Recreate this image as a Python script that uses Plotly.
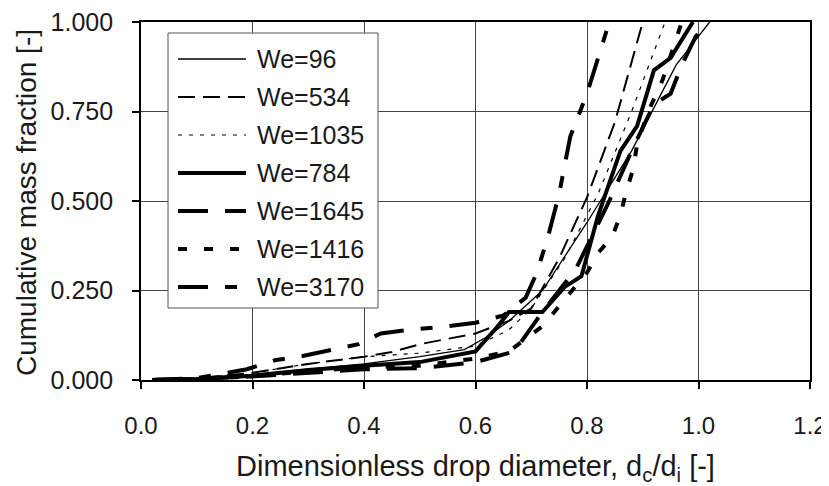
import plotly.graph_objects as go

# ---------------- data ----------------
names = ["We=96", "We=534", "We=1035", "We=784", "We=1645", "We=1416", "We=3170"]

x_we96 = [0.02, 0.10, 0.20, 0.30, 0.40, 0.50, 0.58, 0.62, 0.66, 0.72, 0.80, 0.88, 0.92, 0.96, 1.02]
y_we96 = [0.000, 0.005, 0.015, 0.030, 0.045, 0.065, 0.085, 0.120, 0.165, 0.250, 0.440, 0.640, 0.760, 0.880, 1.000]

x_we534 = [0.02, 0.10, 0.20, 0.30, 0.40, 0.45, 0.50, 0.55, 0.60, 0.66, 0.70, 0.75, 0.80, 0.85, 0.90]
y_we534 = [0.000, 0.005, 0.020, 0.045, 0.065, 0.078, 0.100, 0.115, 0.130, 0.165, 0.200, 0.340, 0.510, 0.720, 1.000]

x_we1035 = [0.02, 0.10, 0.20, 0.30, 0.40, 0.50, 0.60, 0.66, 0.70, 0.76, 0.82, 0.88, 0.94]
y_we1035 = [0.000, 0.005, 0.020, 0.045, 0.065, 0.075, 0.095, 0.140, 0.200, 0.340, 0.520, 0.750, 1.000]

x_we784 = [0.02, 0.10, 0.20, 0.30, 0.40, 0.50, 0.60, 0.64, 0.66, 0.72, 0.76, 0.79, 0.82, 0.86, 0.89, 0.92, 0.95, 0.99]
y_we784 = [0.000, 0.003, 0.012, 0.028, 0.040, 0.050, 0.080, 0.150, 0.190, 0.190, 0.260, 0.290, 0.460, 0.640, 0.710, 0.865, 0.900, 1.000]

x_we1645 = [0.02, 0.10, 0.20, 0.30, 0.40, 0.50, 0.60, 0.67, 0.72, 0.78, 0.84, 0.88, 0.92, 0.95, 0.97, 0.995, 1.02]
y_we1645 = [0.000, 0.003, 0.010, 0.020, 0.030, 0.033, 0.050, 0.080, 0.190, 0.310, 0.500, 0.640, 0.770, 0.800, 0.880, 0.960, 1.000]

x_we1416 = [0.02, 0.10, 0.20, 0.30, 0.40, 0.50, 0.60, 0.66, 0.72, 0.78, 0.80, 0.82, 0.845, 0.86, 0.87, 0.883, 0.89, 0.91, 0.936, 0.97]
y_we1416 = [0.000, 0.003, 0.010, 0.025, 0.035, 0.040, 0.060, 0.080, 0.150, 0.260, 0.300, 0.355, 0.400, 0.460, 0.525, 0.590, 0.660, 0.750, 0.840, 1.000]

x_we3170 = [0.02, 0.10, 0.19, 0.24, 0.29, 0.34, 0.39, 0.43, 0.48, 0.55, 0.60, 0.65, 0.69, 0.71, 0.73, 0.75, 0.77, 0.80, 0.82, 0.84]
y_we3170 = [0.000, 0.005, 0.030, 0.055, 0.067, 0.084, 0.100, 0.130, 0.140, 0.150, 0.160, 0.180, 0.230, 0.300, 0.400, 0.520, 0.680, 0.800, 0.900, 1.000]

xs = [x_we96, x_we534, x_we1035, x_we784, x_we1645, x_we1416, x_we3170]
ys = [y_we96, y_we534, y_we1035, y_we784, y_we1645, y_we1416, y_we3170]

x_ticks = [0.0, 0.2, 0.4, 0.6, 0.8, 1.0, 1.2]
x_ticklabels = ["0.0", "0.2", "0.4", "0.6", "0.8", "1.0", "1.2"]
y_ticks = [0.0, 0.25, 0.5, 0.75, 1.0]
y_ticklabels = ["0.000", "0.250", "0.500", "0.750", "1.000"]

x_title = "Dimensionless drop diameter, d<sub>c</sub>/d<sub>i</sub> [-]"
y_title = "Cumulative mass fraction [-]"

# ---------------- styles ----------------
widths = [1.3, 2.0, 1.2, 4.0, 4.0, 4.0, 4.0]
dashes = ["solid", "17px,8px", "4px,7px", "solid", "30px,17px", "9px,17px", "30px,17px,12px,17px"]

PAGE_W, PAGE_H = 829, 486
OFF = 8  # default body margin of the html page
W, H = PAGE_W - OFF, PAGE_H - OFF
# plot area in page pixels
L, R, T, B = 141, 810, 22, 380
FONT = "Liberation Sans, Arial, sans-serif"

def px(xp):
    return (xp - L) / (R - L)

def py(yp):
    return (B - yp) / (B - T)

fig = go.Figure()
for n, x, y, w, d in zip(names, xs, ys, widths, dashes):
    fig.add_trace(go.Scatter(x=x, y=y, mode="lines", name=n, showlegend=False,
                             line=dict(color="black", width=w, dash=d)))

shapes = []
annotations = []
# legend box
shapes.append(dict(type="rect", xref="paper", yref="paper",
                   x0=px(168), x1=px(378), y0=py(308), y1=py(33),
                   fillcolor="white", line=dict(color="#555555", width=1), layer="above"))
leg_y = [59, 97, 135, 173, 211, 249, 287]
for n, w, d, yy in zip(names, widths, dashes, leg_y):
    shapes.append(dict(type="line", xref="paper", yref="paper",
                       x0=px(178), x1=px(246), y0=py(yy), y1=py(yy),
                       line=dict(color="black", width=w, dash=d), layer="above"))
    annotations.append(dict(xref="paper", yref="paper", x=px(255), y=py(yy),
                            xanchor="left", yanchor="middle", showarrow=False,
                            text=n, font=dict(family=FONT, size=25, color="#1a1a1a")))

# y-axis title placed at its pixel position
annotations.append(dict(xref="paper", yref="paper", x=px(26), y=py(203),
                        xanchor="center", yanchor="middle", textangle=-90, showarrow=False,
                        text=y_title, font=dict(family=FONT, size=28, color="#1a1a1a")))

NB = "\u00a0\u00a0"

fig.update_layout(
    width=W, height=H,
    margin=dict(l=L - OFF, r=PAGE_W - R, t=T - OFF, b=PAGE_H - B, pad=0),
    paper_bgcolor="white", plot_bgcolor="white",
    font=dict(family=FONT, color="#1a1a1a"),
    shapes=shapes, annotations=annotations,
    xaxis=dict(range=[0, 1.2], tickvals=x_ticks, ticktext=x_ticklabels,
               automargin=False, ticklabeloverflow="allow",
               showgrid=True, gridcolor="#444444", gridwidth=1,
               showline=True, linecolor="black", linewidth=2, mirror=True,
               ticks="outside", ticklen=7, tickwidth=2, tickcolor="black",
               tickfont=dict(size=24), zeroline=False, ticklabelstandoff=16,
               title=dict(text=x_title, font=dict(size=29), standoff=30)),
    yaxis=dict(range=[0, 1.0], tickvals=y_ticks, ticktext=[t + NB for t in y_ticklabels],
               automargin=False, ticklabeloverflow="allow",
               showgrid=True, gridcolor="#444444", gridwidth=1,
               showline=True, linecolor="black", linewidth=2, mirror=True,
               ticks="outside", ticklen=7, tickwidth=2, tickcolor="black",
               tickfont=dict(size=25), zeroline=False),
)

fig.write_html("out.html")
